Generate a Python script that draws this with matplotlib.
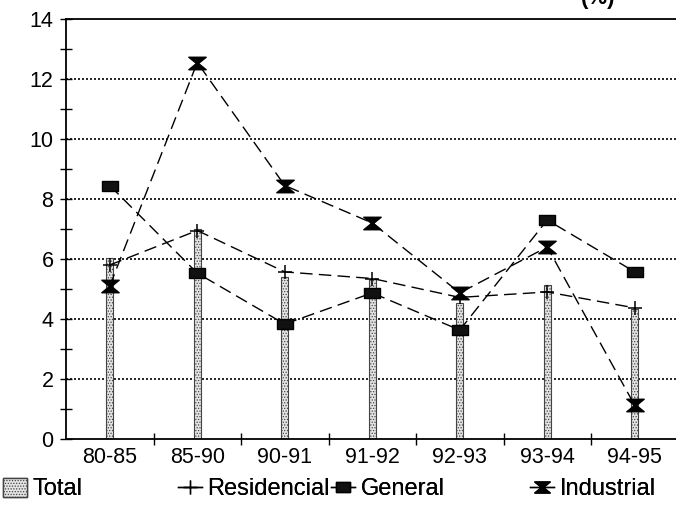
"""Growth by sector chart, recreated with matplotlib."""
import matplotlib
matplotlib.use("Agg")
import matplotlib.pyplot as plt
import numpy as np
from matplotlib.lines import Line2D
from matplotlib.patches import Patch
from matplotlib.path import Path

periods = ["80-85", "85-90", "90-91", "91-92", "92-93", "93-94", "94-95"]
total = [6.05, 7.0, 5.4, 5.33, 4.55, 5.15, 4.35]
residencial = [5.8, 6.95, 5.57, 5.35, 4.72, 4.9, 4.37]
general = [8.45, 5.53, 3.83, 4.87, 3.63, 7.3, 5.57]
industrial = [5.1, 12.55, 8.45, 7.2, 4.87, 6.4, 1.12]

plt.rcParams["font.family"] = ["Liberation Sans", "DejaVu Sans"]
plt.rcParams["hatch.linewidth"] = 0.6
plt.rcParams["hatch.color"] = "#555555"

HOURGLASS = Path([(-1, 0.72), (1, 0.72), (0.12, 0), (1, -0.72), (-1, -0.72),
                  (-0.12, 0), (-1, 0.72)], closed=True)
RECT = Path([(-1, -0.68), (1, -0.68), (1, 0.68), (-1, 0.68), (-1, -0.68)],
            closed=True)
DASH = (0, (9, 4.5))


def main():
    fig = plt.figure(figsize=(6.76, 5.07), dpi=100)
    ax = fig.add_axes([66 / 676, 1 - 439 / 507, 612.5 / 676, 420 / 507])
    x = np.arange(len(periods))

    ax.bar(x, total, width=0.08, facecolor="#e4e4e4", edgecolor="#444444",
           hatch="......", linewidth=0.8, zorder=2)
    ax.plot(x, residencial, color="black", linestyle=DASH, linewidth=1.0,
            marker="+", markersize=10, markeredgewidth=1.1, zorder=3)
    ax.plot(x, general, color="black", linestyle=DASH, linewidth=1.0,
            marker=RECT, markersize=11.5, markerfacecolor="#111111",
            markeredgecolor="black", zorder=3)
    ax.plot(x, industrial, color="black", linestyle=DASH, linewidth=1.0,
            marker=HOURGLASS, markersize=12.5, markerfacecolor="black",
            markeredgecolor="black", zorder=3)

    ax.set_xlim(-0.5, 6.5)
    ax.set_ylim(0, 14)
    ax.set_yticks(range(0, 15, 2))
    ax.set_yticks(range(1, 14, 2), minor=True)
    ax.set_xticks(x + 0.5)
    ax.set_xticklabels([])
    ax.set_xticks(x, minor=True)
    ax.set_xticklabels(periods, minor=True)
    ax.tick_params(axis="x", which="minor", length=0, pad=6, labelsize=15.5)
    ax.tick_params(axis="x", which="major", direction="inout", length=8,
                   width=1)
    ax.tick_params(axis="y", which="both", direction="inout", length=8,
                   width=1, labelsize=15.5, pad=5)
    for y in range(2, 14, 2):
        ax.axhline(y, color="black", linestyle=(0, (1.2, 1.2)),
                   linewidth=1.2, zorder=1)

    for side in ["left", "bottom", "top"]:
        ax.spines[side].set_linewidth(1.3)
    ax.spines["right"].set_visible(False)

    fig.text(598 / 676, 1 - 9 / 507, "(%)", ha="center", va="bottom",
             fontsize=16, fontweight="bold")

    y_leg = 1 - 489 / 507
    entries = [
        (3 / 676, Patch(facecolor="#e4e4e4", edgecolor="#444444",
                        hatch="......"), "Total"),
        (178 / 676, Line2D([], [], color="black", marker="+", markersize=10,
                           markeredgewidth=1.0, linewidth=1.0), "Residencial"),
        (331 / 676, Line2D([], [], color="black", marker=RECT, markersize=10,
                           markerfacecolor="#111111", linewidth=1.0),
         "General"),
        (530 / 676, Line2D([], [], color="black", marker=HOURGLASS,
                           markersize=11, linewidth=1.0), "Industrial"),
    ]
    for xpos, handle, label in entries:
        leg = fig.legend(handles=[handle], labels=[label], loc="center left",
                         bbox_to_anchor=(xpos, y_leg), frameon=False,
                         fontsize=17, handlelength=1.0, handleheight=0.9,
                         handletextpad=0.25, borderpad=0, borderaxespad=0)
        fig.add_artist(leg)

    fig.savefig("out.png", dpi=100)


if __name__ == "__main__":
    main()
